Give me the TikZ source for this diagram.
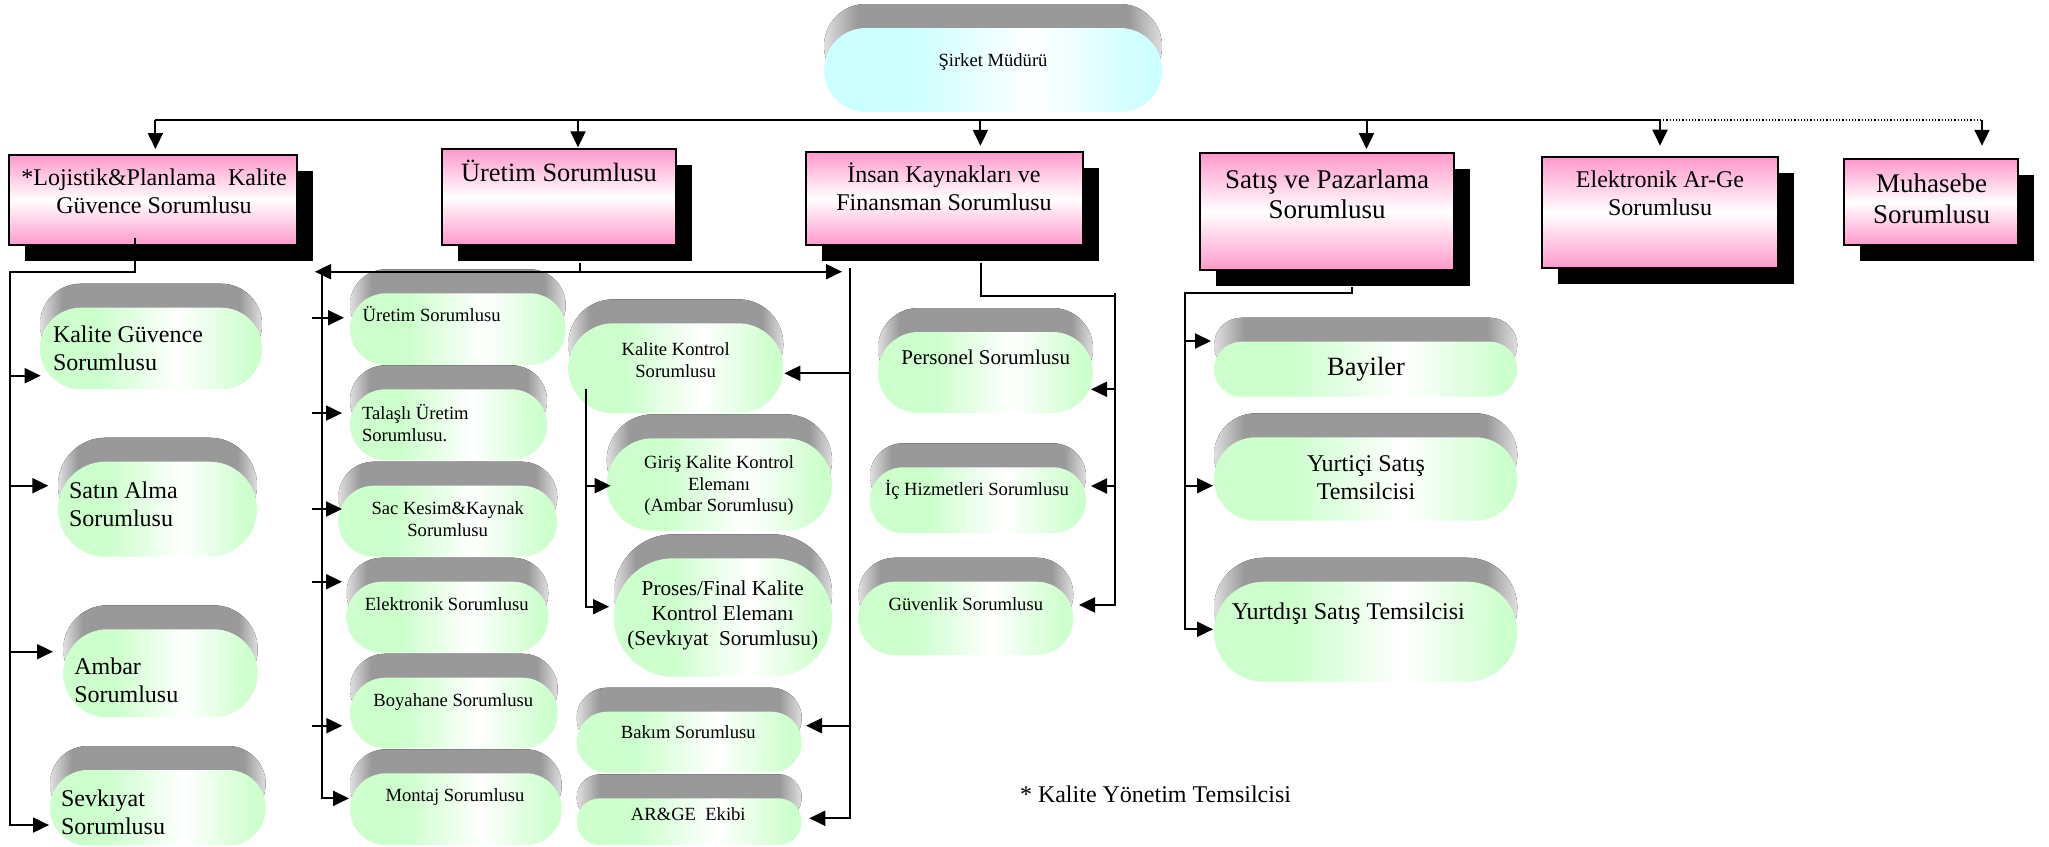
\documentclass[tikz,border=0pt]{standalone}
\usepackage{fontspec}
\setmainfont{Liberation Serif}
\usetikzlibrary{arrows.meta,shadows}
\definecolor{pinkc}{RGB}{255,153,204}
\definecolor{gfill}{RGB}{204,255,204}
\definecolor{cfill}{RGB}{204,255,255}
\pgfdeclarehorizontalshading{pilltop}{100bp}{color(0bp)=(gray!25); color(25bp)=(gray!25); color(30bp)=(gray!80); color(70bp)=(gray!80); color(75bp)=(gray!25); color(100bp)=(gray!25)}
\pgfdeclarehorizontalshading{pillgreen}{100bp}{color(0bp)=(gfill); color(38bp)=(gfill); color(56bp)=(white); color(73bp)=(gfill); color(100bp)=(gfill)}
\pgfdeclarehorizontalshading{pillcyan}{100bp}{color(0bp)=(cfill); color(38bp)=(cfill); color(56bp)=(white); color(73bp)=(cfill); color(100bp)=(cfill)}
\tikzset{
  pinkbox/.style={draw,line width=1pt,top color=pinkc,bottom color=pinkc,middle color=white,
    drop shadow={shadow xshift=8pt,shadow yshift=-8pt,opacity=1,fill=black}},
  greenface/.style={shade,shading=pillgreen},
  cyanface/.style={shade,shading=pillcyan},
  bigtxt/.style={font=\fontsize{12}{14}\selectfont,inner sep=0pt,align=center},
  smalltxt/.style={font=\fontsize{9.3}{10.85}\selectfont,inner sep=0pt,align=center},
}
% 3-d pill: name, x1, y1, x2, y2, face style
\newcommand{\pill}[6]{%
  \pgfmathsetmacro{\pilr}{(#5-#3)/4*0.999}%
  \pgfmathsetmacro{\pilw}{(#4-#2)/2}%
  \pgfmathsetmacro{\pilh}{(#5-#3)/2}%
  \fill[shading=pilltop,rounded corners=\pilr pt] (#2,#3-24) rectangle (#4,#5-24);
  \node[#6,minimum width=\pilw pt,minimum height=\pilh pt,inner sep=0pt,rounded corners=\pilr pt] (#1) at ({(#2+#4)/2},{(#3+#5)/2}) {};
}
\begin{document}
\begin{tikzpicture}[x=0.5pt,y=-0.5pt,line width=1pt,>={Triangle[length=8pt,width=7.5pt]}]
\useasboundingbox (0,0) rectangle (2049,846);

\pill{boss}{824}{28}{1162}{112}{cyanface}
\node[smalltxt] (bossT) at (993,61.7) {Şirket Müdürü};

\node[pinkbox,minimum width=144pt,minimum height=45pt] (loj) at (153,200) {};
\node[pinkbox,minimum width=117pt,minimum height=47.85pt] (uret) at (559,197.2) {};
\node[pinkbox,minimum width=138.4pt,minimum height=46.65pt] (insan) at (944.2,198.4) {};
\node[pinkbox,minimum width=127pt,minimum height=58.35pt] (satis) at (1327,211.7) {};
\node[pinkbox,minimum width=118pt,minimum height=55.5pt] (arge) at (1660,212.8) {};
\node[pinkbox,minimum width=87pt,minimum height=42.85pt] (muh) at (1931.3,202.2) {};
\node[bigtxt] (lojT) at (154,191) {*Lojistik\&Planlama~ Kalite\\Güvence Sorumlusu};
\node[bigtxt,font=\fontsize{13.2}{15}\selectfont] (uretT) at (559,170.9) {Üretim Sorumlusu};
\node[bigtxt] (insanT) at (944,186.5) {İnsan Kaynakları ve\\Finansman Sorumlusu};
\node[bigtxt,font=\fontsize{13.5}{15}\selectfont] (satisT) at (1327,193.8) {Satış ve Pazarlama\\Sorumlusu};
\node[bigtxt] (argeT) at (1660,193.5) {Elektronik Ar-Ge\\Sorumlusu};
\node[bigtxt,font=\fontsize{13.5}{15.3}\selectfont] (muhT) at (1931.7,198.8) {Muhasebe\\Sorumlusu};

\pill{kg}{40}{307.7}{262}{389.3}{greenface}
\pill{sa}{58}{461.7}{257}{556.7}{greenface}
\pill{amb}{63.3}{629.3}{257.7}{717.3}{greenface}
\pill{sev}{50}{770}{265.7}{845.7}{greenface}
\pill{u1}{350}{293.3}{565.7}{365}{greenface}
\pill{tal}{350}{389.3}{547}{460}{greenface}
\pill{sac}{338.3}{485.7}{557.3}{556.7}{greenface}
\pill{ele}{346.5}{581.7}{548.3}{652.7}{greenface}
\pill{boy}{350}{677.7}{557.7}{748.3}{greenface}
\pill{mon}{350}{773.3}{561.7}{845}{greenface}
\pill{kk}{568.3}{323.3}{783.3}{413.3}{greenface}
\pill{gir}{606.7}{438.3}{832}{530.7}{greenface}
\pill{pro}{614}{558.3}{832}{676.7}{greenface}
\pill{bak}{576.7}{711.7}{801.7}{772.7}{greenface}
\pill{ar}{576.7}{798.3}{801.7}{845}{greenface}
\pill{per}{878}{332}{1093}{413}{greenface}
\pill{ich}{870}{467.3}{1086}{533.3}{greenface}
\pill{guv}{858.3}{581.7}{1073.3}{655}{greenface}
\pill{bay}{1214}{341.7}{1517.3}{396.7}{greenface}
\pill{yi}{1214}{437.3}{1517.3}{520.7}{greenface}
\pill{yd}{1214}{581.7}{1517.3}{681.7}{greenface}

\node[bigtxt,anchor=west,align=left] (kgT) at (52,347.9) {Kalite Güvence\\Sorumlusu};
\node[bigtxt,anchor=west,align=left] (saT) at (68,503.9) {Satın Alma\\Sorumlusu};
\node[bigtxt,anchor=west,align=left] (ambT) at (73.3,679.9) {Ambar\\Sorumlusu};
\node[bigtxt,anchor=west,align=left] (sevT) at (60,811.9) {Sevkıyat\\Sorumlusu};
\node[smalltxt,anchor=west] (u1T) at (361.7,314) {Üretim Sorumlusu};
\node[smalltxt,anchor=west,align=left] (talT) at (361,422.9) {Talaşlı Üretim\\Sorumlusu.};
\node[smalltxt] (sacT) at (447.7,519.2) {Sac Kesim\&Kaynak\\Sorumlusu};
\node[smalltxt] (eleT) at (446.7,603.7) {Elektronik Sorumlusu};
\node[smalltxt] (boyT) at (453.3,702.5) {Boyahane Sorumlusu};
\node[smalltxt] (monT) at (455,797.5) {Montaj Sorumlusu};
\node[smalltxt] (kkT) at (675.7,360.2) {Kalite Kontrol\\Sorumlusu};
\node[smalltxt] (girT) at (719,485.8) {Giriş Kalite Kontrol\\Elemanı\\(Ambar Sorumlusu)};
\node[smalltxt,font=\fontsize{10.6}{12.5}\selectfont] (proT) at (722.7,615.2) {Proses/Final Kalite\\Kontrol Elemanı\\(Sevkıyat~ Sorumlusu)};
\node[smalltxt] (bakT) at (688.3,732) {Bakım Sorumlusu};
\node[smalltxt] (arT) at (688.3,813.7) {AR\&GE~ Ekibi};
\node[smalltxt,font=\fontsize{10.5}{12}\selectfont] (perT) at (985.7,356.9) {Personel Sorumlusu};
\node[smalltxt] (ichT) at (977,490.2) {İç Hizmetleri Sorumlusu};
\node[smalltxt] (guvT) at (965.8,604.4) {Güvenlik Sorumlusu};
\node[bigtxt,font=\fontsize{13.2}{15}\selectfont] (bayT) at (1366,368.9) {Bayiler};
\node[bigtxt] (yiT) at (1366,477.4) {Yurtiçi Satış\\Temsilcisi};
\node[bigtxt] (ydT) at (1348.3,613.7) {Yurtdışı Satış Temsilcisi};
\node[bigtxt,anchor=west] (note) at (1019,794.3) {* Kalite Yönetim Temsilcisi};

% bus under the manager
\coordinate (bus) at ([yshift=-3.5pt]boss.south);
\draw ([xshift=1.2pt]loj.north |- bus) -- (arge.north |- bus);
\draw[line width=0.6pt,densely dotted] (arge.north |- bus) -- ([xshift=25.35pt]muh.north |- bus);
\foreach \n/\dx/\dy in {loj/1.2/2.5,uret/9.5/0.5,insan/18.1/2.5,satis/19.75/1.65,arge/0/5.3,muh/25.35/6.3}
  \draw[->] ([xshift=\dx pt]\n.north |- bus) -- ([xshift=\dx pt,yshift=\dy pt]\n.north);

% lojistik
\coordinate (v1) at (9.5,271.7);
\draw[->] ([xshift=-8.85pt,yshift=4.15pt]loj.south) |- (v1) |- ([yshift=-8.6pt]sev.west);
\foreach \n/\dx/\dy in {kg/0.85/-13.6,sa/-4.35/11.75,amb/-4.65/10.8}
  \draw[->] ([yshift=\dy pt]\n.west -| v1) -- ([xshift=\dx pt,yshift=\dy pt]\n.west);

% uretim
\coordinate (v2) at (321.7,271.7);
\coordinate (v2s) at (311.7,271.7);
\coordinate (v3) at (850,268);
\draw ([xshift=10.5pt,yshift=-8.35pt]uret.south) -- ([xshift=10.5pt]uret.south |- v2);
\draw[<->] ([xshift=-3.35pt]v2) -- ([xshift=-4pt]v3 |- v2);
\draw[->] (v2) |- ([yshift=5.4pt]mon.west);
\foreach \n/\dx/\dy in {u1/-2.5/5.7,tal/-3.5/5.8,sac/2.35/6.1,ele/-1.75/17.75,boy/-3.35/-6.35}
  \draw[->] ([yshift=\dy pt]\n.west -| v2s) -- ([xshift=\dx pt,yshift=\dy pt]\n.west);
\draw[->] (v3) |- ([xshift=3.3pt,yshift=1.7pt]ar.east);
\foreach \n/\dx/\dy in {kk/0/-2.5,bak/1.65/8.25}
  \draw[->] ([yshift=\dy pt]\n.east -| v3) -- ([xshift=\dx pt,yshift=\dy pt]\n.east);
\coordinate (v4) at (585.7,389.3);
\draw[->] (v4) |- ([xshift=-2pt,yshift=5.4pt]pro.west);
\draw[->] ([yshift=-0.6pt]gir.west -| v4) -- ([xshift=2.5pt,yshift=-0.6pt]gir.west);

% insan kaynaklari
\coordinate (v5) at (1115,293);
\draw ([xshift=18.55pt,yshift=-8.35pt]insan.south) |- ([yshift=-1.5pt]v5);
\draw[->] (v5) |- ([xshift=2.35pt,yshift=6.7pt]guv.east);
\foreach \n/\dx/\dy in {per/-1.5/-8.4,ich/2/7.15}
  \draw[->] ([yshift=\dy pt]\n.east -| v5) -- ([xshift=\dx pt,yshift=\dy pt]\n.east);

% satis
\coordinate (v6) at (1185,293.3);
\draw[->] ([xshift=12.5pt,yshift=-7.85pt]satis.south) |- (v6) |- ([yshift=1.2pt]yd.west);
\foreach \n/\dx/\dy in {bay/-1/14.1,yi/0/-3.35}
  \draw[->] ([yshift=\dy pt]\n.west -| v6) -- ([xshift=\dx pt,yshift=\dy pt]\n.west);
\end{tikzpicture}
\end{document}
